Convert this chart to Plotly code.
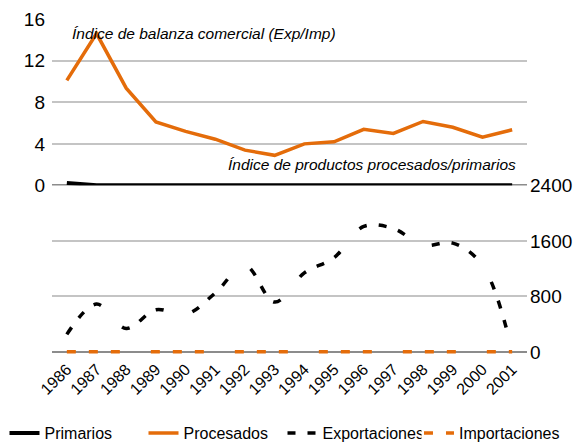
import plotly.graph_objects as go

# Years on the shared category axis
years = ["1986", "1987", "1988", "1989", "1990", "1991", "1992", "1993",
         "1994", "1995", "1996", "1997", "1998", "1999", "2000", "2001"]

# Upper panel: trade balance index (Exp/Imp)
procesados = [10.1, 14.6, 9.35, 6.1, 5.2, 4.45, 3.4, 2.9,
              4.0, 4.2, 5.4, 5.0, 6.15, 5.6, 4.65, 5.35]
primarios = [0.25, 0.02, 0.02, 0.02, 0.02, 0.02, 0.02, 0.02,
             0.02, 0.02, 0.02, 0.02, 0.02, 0.02, 0.02, 0.02]

# Lower panel: processed/primary products index
exportaciones = [254, 690, 340, 610, 540, 850, 1250, 720,
                 1140, 1360, 1810, 1780, 1540, 1570, 1250, 15]
importaciones = [5, 5, 5, 5, 5, 5, 5, 5,
                 5, 5, 5, 5, 5, 5, 5, 5]

upper_ticks = [0, 4, 8, 12, 16]
lower_ticks = [0, 800, 1600, 2400]

ORANGE = "#E46C0A"
BLACK = "#000000"
GRID = "#c4c4c4"
AXIS = "#8c8c8c"
FONT = "Liberation Sans, Arial, sans-serif"

fig = go.Figure()

fig.add_trace(go.Scatter(x=years, y=primarios, name="Primarios", mode="lines",
                         line=dict(color=BLACK, width=4), xaxis="x", yaxis="y",
                         legend="legend"))
fig.add_trace(go.Scatter(x=years, y=procesados, name="Procesados", mode="lines",
                         line=dict(color=ORANGE, width=3.5), xaxis="x", yaxis="y",
                         legend="legend"))
fig.add_trace(go.Scatter(x=years, y=exportaciones, name="Exportaciones", mode="lines",
                         line=dict(color=BLACK, width=3.5, shape="spline",
                                   dash="8px,12px,8px,12px,8px,30px"),
                         xaxis="x", yaxis="y2", legend="legend"))
fig.add_trace(go.Scatter(x=years, y=importaciones, name="Importaciones", mode="lines",
                         line=dict(color=ORANGE, width=3.5,
                                   dash="9px,13px,9px,13px,9px,31px"),
                         xaxis="x", yaxis="y2", legend="legend2"))

legend_common = dict(orientation="h", xref="paper", yref="paper",
                     y=-0.2285, xanchor="left", yanchor="middle",
                     font=dict(size=16, family=FONT), bgcolor="rgba(0,0,0,0)")

# Both value ranges dip slightly below zero so the thick lines lying on
# the zero baselines are not clipped by the subplot edge.
fig.update_layout(
    width=588, height=443,
    margin=dict(l=52, r=61, t=19, b=87, autoexpand=False),
    paper_bgcolor="white", plot_bgcolor="white",
    font=dict(family=FONT, color="#000000"),
    showlegend=True,
    legend=dict(x=-0.1, entrywidth=94, entrywidthmode="pixels", **legend_common),
    legend2=dict(x=0.7726, **legend_common),
    xaxis=dict(type="category", anchor="y2", range=[-0.5, 15.5],
               showgrid=False, zeroline=False,
               showline=False, ticks="", tickangle=-45,
               tickfont=dict(size=16, family=FONT)),
    yaxis=dict(domain=[0.4936, 1.0], range=[-0.4, 16], tickvals=upper_ticks,
               showgrid=True, gridcolor=GRID, gridwidth=1.5,
               zeroline=True, zerolinecolor=AXIS, zerolinewidth=1.5,
               showline=False, ticks="", ticklabelstandoff=6,
               tickfont=dict(size=19, family=FONT)),
    yaxis2=dict(domain=[0.0, 0.5059], range=[-58, 2400], tickvals=lower_ticks,
                side="right", anchor="x",
                showgrid=True, gridcolor=GRID, gridwidth=1.5,
                zeroline=True, zerolinecolor=AXIS, zerolinewidth=2,
                showline=False, ticks="", ticklabelstandoff=2,
                tickfont=dict(size=19, family=FONT)),
    annotations=[
        dict(text="<i>Índice de balanza comercial (Exp/Imp)</i>",
             xref="paper", yref="y", x=0.037, y=14.6,
             xanchor="left", yanchor="middle", showarrow=False,
             font=dict(size=15.5, family=FONT, color="#000000")),
        dict(text="<i>Índice de productos procesados/primarios</i>",
             xref="paper", yref="y", x=0.98, y=2.05,
             xanchor="right", yanchor="middle", showarrow=False,
             font=dict(size=15.5, family=FONT, color="#000000")),
    ],
)

fig.write_html("out.html")
